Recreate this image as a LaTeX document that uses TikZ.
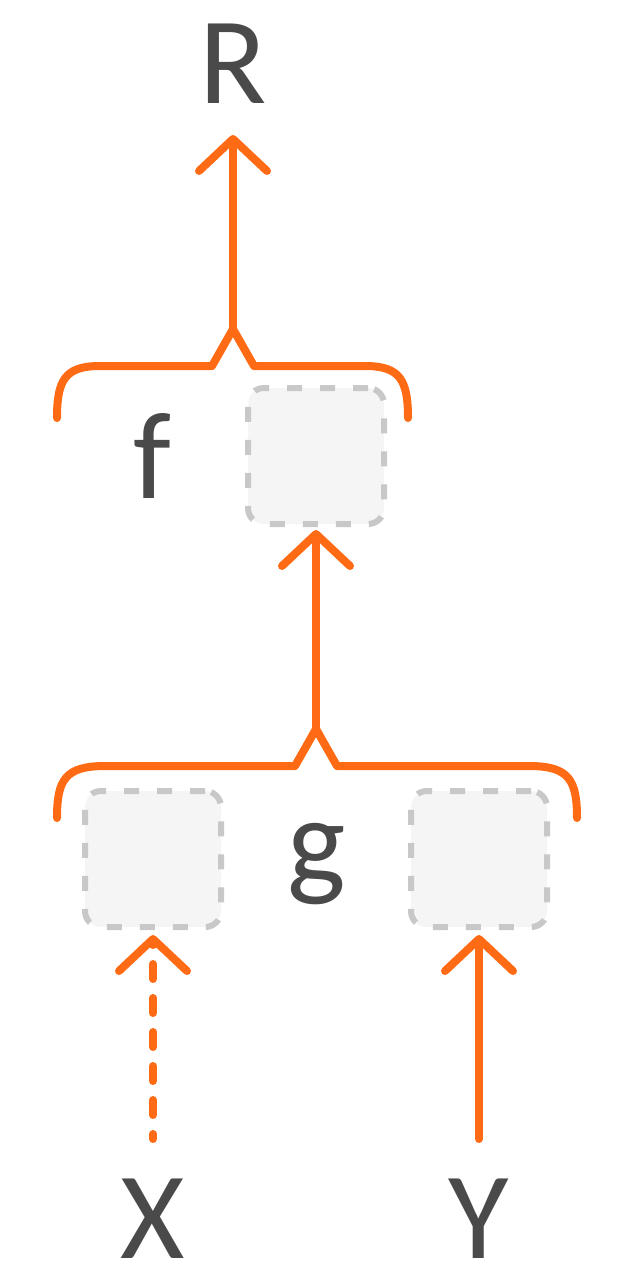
\documentclass[tikz,border=0pt]{standalone}
\usepackage{fontspec}
\setmainfont{Carlito}
\usetikzlibrary{arrows.meta}
\definecolor{orangeline}{RGB}{255,107,20}
\definecolor{slotfill}{RGB}{245,245,245}
\definecolor{slotedge}{RGB}{200,200,200}
\definecolor{inkgrey}{RGB}{74,74,74}
\begin{document}
\begin{tikzpicture}[x=1pt, y=-1pt]
	\tikzstyle{labelnode}=[inner sep=0, text=inkgrey, font=\fontsize{124}{126}\selectfont]
	\tikzstyle{slotnode}=[draw=slotedge, fill=slotfill, line width=6, dash pattern=on 15pt off 18pt, rounded corners=16pt, minimum size=136pt, inner sep=0]
	\tikzstyle{linkarrow}=[-{Straight Barb[length=32pt,width=68pt,round]}, line width=8, orangeline, line cap=round]
	\tikzstyle{bracepath}=[line width=8, orangeline, line cap=round, line join=round]
	
	\useasboundingbox (0,0) rectangle (618,1288);
	
	\node (R) at (233,64) [labelnode] {R};
	\node (f) at (152,456) [labelnode] {f};
	\node (g) at (316.5,864.5) [labelnode] {g};
	\node (X) at (153,1219) [labelnode] {X};
	\node (Y) at (479,1219) [labelnode] {Y};
	
	\node (slotF) at (316,456) [slotnode] {};
	\node (slotX) at (153,859) [slotnode] {};
	\node (slotY) at (479,859) [slotnode] {};
	
	% braces
	\coordinate (fPeak) at (233,329);
	\coordinate (gPeak) at (316,729);
	\draw [bracepath] (57,418) .. controls (57,380) and (65,366) .. (100,366) -- (212,366) -- (fPeak) -- (254,366) -- (365,366) .. controls (400,366) and (408,380) .. (408,418);
	\draw [bracepath] (57,818) .. controls (57,780) and (65,766) .. (105,766) -- (295,766) -- (gPeak) -- (337,766) -- (529,766) .. controls (569,766) and (577,780) .. (577,818);
	
	\draw [linkarrow, shorten >=31pt] (fPeak) -- (R);
	\draw [linkarrow, shorten >=3pt] (gPeak) -- (slotF);
	\draw [linkarrow, shorten <=40pt, shorten >=5pt, dash pattern=on 15pt off 19pt, dash phase=10pt] (X) -- (slotX);
	\draw [linkarrow, shorten <=40pt, shorten >=5pt] (Y) -- (slotY);
\end{tikzpicture}
\end{document}
